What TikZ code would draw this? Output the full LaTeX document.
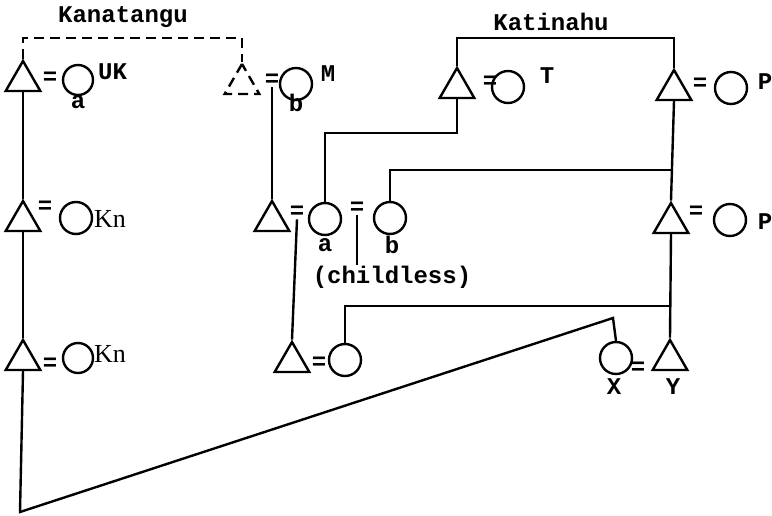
\documentclass[tikz,border=0pt]{standalone}
\usepackage{fontspec}
\setmonofont{Liberation Mono}
\newfontfamily\knfont{Liberation Serif}
\usetikzlibrary{shapes.geometric}

\begin{document}
\begin{tikzpicture}[x=0.5pt,y=-0.5pt,line width=1.2pt,
    every node/.style={font=\ttfamily\bfseries\fontsize{12}{14}\selectfont,inner sep=0pt},
    male/.style={draw,regular polygon,regular polygon sides=3,minimum size=20pt},
    female/.style={draw,circle,minimum size=16pt},
    knlabel/.style={font=\knfont\fontsize{13}{15}\selectfont},
    dashline/.style={dash pattern=on 5pt off 3pt}]
  \useasboundingbox (0,0) rectangle (772,515);

  % left line
  \node[male] (L1) at (23,81) {};
  \node (eL1) at (50,78) {=};
  \node[female,minimum size=15pt] (cUK) at (78,80) {};
  \node[anchor=west] (lUK) at (97,72) {UK};
  \node (la1) at (78,102) {a};

  \node[male] (L2) at (23,221) {};
  \node (eL2) at (45,207) {=};
  \node[female] (cKn1) at (76,218) {};
  \node[knlabel] (lKn1) at (110,219) {Kn};

  \node[male] (L3) at (23,360) {};
  \node (eL3) at (50,364) {=};
  \node[female,minimum size=15pt] (cKn2) at (78,358) {};
  \node[knlabel] (lKn2) at (110,354) {Kn};

  \node (kan) at (123,17) {Kanatangu};
  \coordinate (kanbar) at (242,38);

  % dashed couple
  \node[male,dashline] (D) at (242,84) {};
  \node (eD) at (272,80) {=};
  \node[female] (cM) at (296,84) {};
  \node (lM) at (328,74) {M};
  \node (lb1) at (296,103) {b};

  % middle couples
  \node[male] (M1) at (272,221) {};
  \node (eM1) at (297,212) {=};
  \node[female] (ca) at (325,219) {};
  \node (eab) at (357,208) {=};
  \node[female] (cb) at (390,218) {};
  \node (la2) at (325,245) {a};
  \node (lb2) at (392,245) {b};
  \node (childless) at (392,277) {(childless)};

  \node[male] (B1) at (292,362) {};
  \node (eB) at (319,363) {=};
  \node[female] (cB) at (345,360) {};

  % right line
  \node (kat) at (551,22) {Katinahu};
  \coordinate (katbar) at (674,38);
  \node[male] (T) at (457,88) {};
  \node (eT) at (490,82) {=};
  \node[female] (cT) at (508,87) {};
  \node (lT) at (547,76) {T};

  \node[male] (P1) at (674,90) {};
  \node (eP1) at (700,84) {=};
  \node[female] (cP1) at (731,88) {};
  \node (lP1) at (765,82) {P};

  \node[male] (P2) at (671,223) {};
  \node (eP2) at (696,212) {=};
  \node[female] (cP2) at (730,220) {};
  \node (lP2) at (765,222) {P};

  \node[female] (cX) at (616,358) {};
  \node (eX) at (638,368) {=};
  \node[male] (Y) at (670,360) {};
  \node (lX) at (614,387) {X};
  \node (lY) at (673,387) {Y};

  \coordinate (tbar) at (325,133);
  \coordinate (bbar) at (390,170);
  \coordinate (ybar) at (345,306);
  \coordinate (xtop) at (613,318);
  \coordinate (bend) at (20,512);

  % connectors
  \draw[dashline] (L1.north) |- (kanbar) -- (D.north);
  \draw (L1.south) -- (L2.north);
  \draw (L2.south) -- (L3.north);
  \draw (L3.south) -- (bend) -- (xtop) -- (cX.north);
  \draw (eD.south) -- (M1.north);
  \draw (eM1.south) -- (B1.north);
  \draw (eab.south) -- (eab.south |- childless.north);
  \draw (T.north) |- (katbar) -- (P1.north);
  \draw (T.south) |- (tbar) -- (ca.north);
  \draw (P1.south) -- (P2.north);
  \draw (cb.north) -- (bbar) -- (bbar -| P2.north);
  \draw (P2.south) -- (Y.north);
  \draw (cB.north) -- (ybar) -- (ybar -| Y.north);
\end{tikzpicture}
\end{document}
